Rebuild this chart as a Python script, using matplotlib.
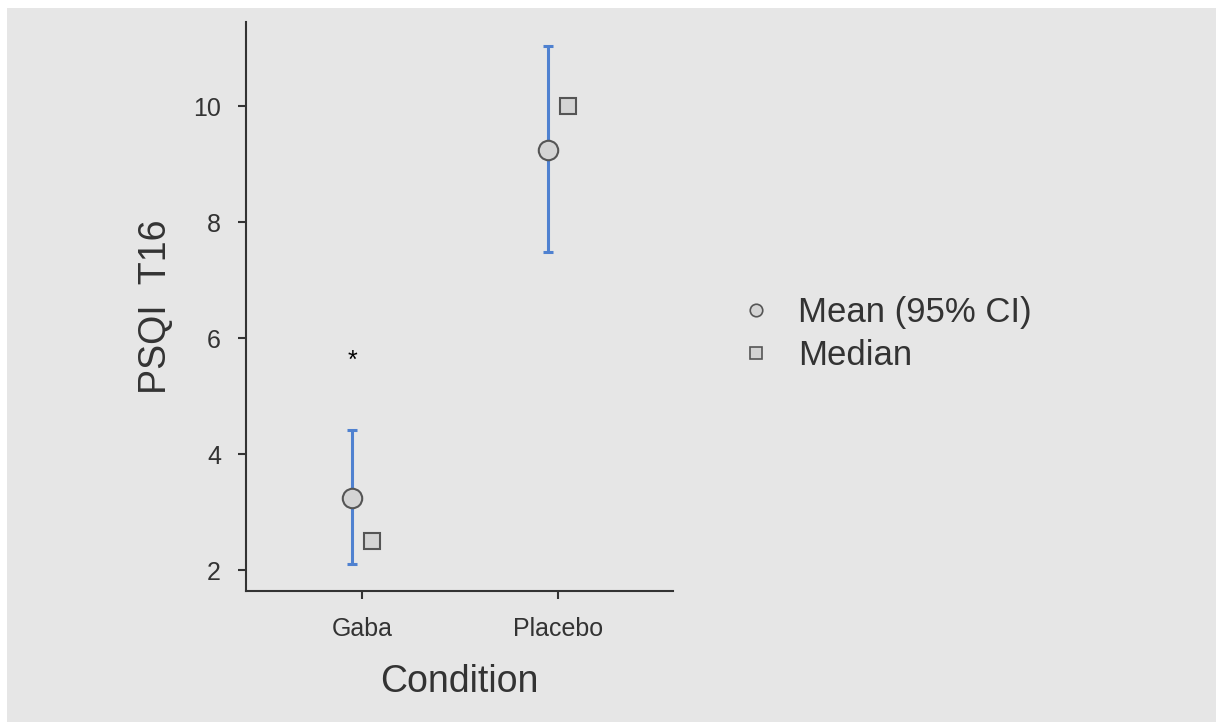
import matplotlib.pyplot as plt
from matplotlib.patches import Rectangle
from matplotlib.lines import Line2D

plt.rcParams['font.family'] = ['Liberation Sans', 'DejaVu Sans']

# data
conditions = ['Gaba', 'Placebo']
means = [3.25, 9.25]
ci_low = [2.10, 7.48]
ci_high = [4.41, 11.03]
medians = [2.5, 10.0]
yticks = [2, 4, 6, 8, 10]

bg = '#e6e6e6'
blue = '#4f81d0'
face = '#d4d4d4'
edge = '#555555'
dark = '#333333'

fig = plt.figure(figsize=(12.16, 7.22), dpi=100, facecolor='white')
fig.patches.append(Rectangle((7 / 1216, 0), 1, 1 - 8 / 722, transform=fig.transFigure,
                             facecolor=bg, edgecolor='none', zorder=-10))
ax = fig.add_axes([0.2023, 0.1814, 0.3512, 0.7881])
ax.set_facecolor(bg)
ax.patch.set_alpha(0)

x = list(range(len(conditions)))
xm = [i - 0.05 for i in x]
xd = [i + 0.05 for i in x]
err = [[m - lo for m, lo in zip(means, ci_low)], [hi - m for m, hi in zip(means, ci_high)]]

ax.errorbar(xm, means, yerr=err, fmt='none', ecolor=blue, elinewidth=2.2,
            capsize=3.6, capthick=2.2, zorder=2)
ax.plot(xm, means, 'o', ms=14, mfc=face, mec=edge, mew=1.5, ls='none', zorder=3)
ax.plot(xd, medians, 's', ms=12, mfc=face, mec=edge, mew=1.5, ls='none', zorder=3)

ax.text(xm[0], 5.6, '*', ha='center', va='center', fontsize=18, color='black')

ax.set_xlim(-0.592, 1.587)
ax.set_ylim(1.638, 11.45)
ax.set_xticks(x)
ax.set_xticklabels(conditions)
ax.set_yticks(yticks)

for s in ['top', 'right']:
    ax.spines[s].set_visible(False)
for s in ['left', 'bottom']:
    ax.spines[s].set_color(dark)
    ax.spines[s].set_linewidth(1.5)
ax.tick_params(axis='both', length=6, width=1.5, color=dark, labelcolor=dark,
               labelsize=18)
ax.tick_params(axis='y', pad=12)
ax.tick_params(axis='x', pad=13)

ax.set_xlabel('Condition', fontsize=27, color=dark, labelpad=16)
ax.set_ylabel('PSQI  T16', fontsize=27, color=dark, labelpad=14)

handles = [
    Line2D([], [], marker='o', ms=9, mfc=face, mec=edge, mew=1.2, ls='none'),
    Line2D([], [], marker='s', ms=8, mfc=face, mec=edge, mew=1.2, ls='none'),
]
fig.legend(handles, ['Mean (95% CI)', 'Median'], loc='center left',
           bbox_to_anchor=(0.582, 0.537), frameon=False, fontsize=25,
           labelcolor=dark, handlelength=1.0, handletextpad=0.7, labelspacing=0.3)

fig.savefig('out.png', dpi=100, facecolor='white')
